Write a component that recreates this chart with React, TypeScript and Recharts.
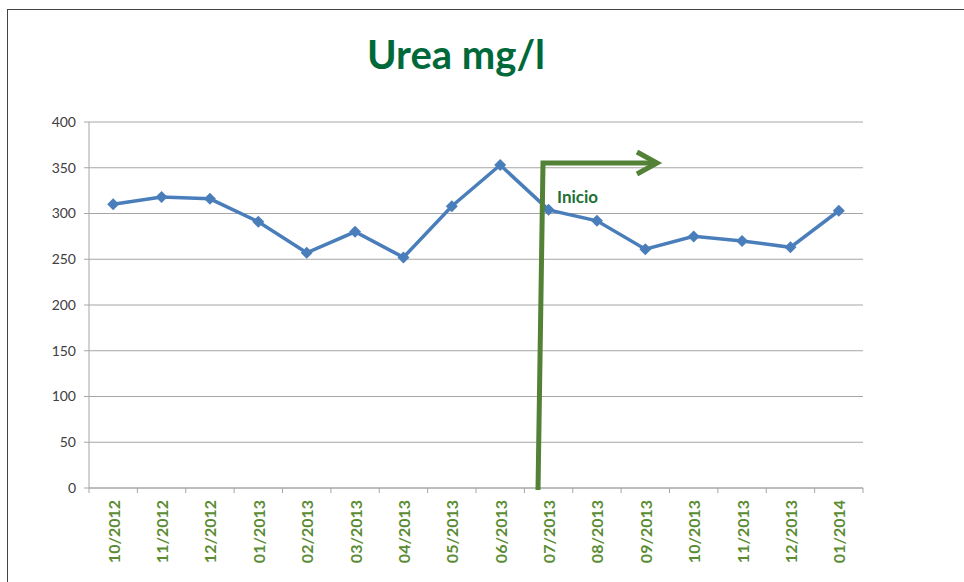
import { LineChart, Line, XAxis, YAxis, CartesianGrid } from 'recharts';

const months = [
  '10/2012', '11/2012', '12/2012', '01/2013', '02/2013', '03/2013', '04/2013', '05/2013',
  '06/2013', '07/2013', '08/2013', '09/2013', '10/2013', '11/2013', '12/2013', '01/2014',
];
const urea = [310, 318, 316, 291, 257, 280, 252, 308, 353, 304, 292, 261, 275, 270, 263, 303];
const yTicks = [0, 50, 100, 150, 200, 250, 300, 350, 400];

const data = months.map((m, i) => ({ month: m, urea: urea[i] }));

const FONT = 'Lato, "Open Sans", sans-serif';
const BLUE = '#4a7ebb';
const ARROW = '#538135';
const LABEL_GREEN = '#5b8c34';
const GRID = '#a6a6a6';

function Diamond(props: any) {
  const { cx, cy } = props;
  if (cx == null || cy == null) return null;
  const r = 6;
  return <polygon points={`${cx},${cy - r} ${cx + r},${cy} ${cx},${cy + r} ${cx - r},${cy}`} fill={BLUE} />;
}

// labels sit in the middle of each band, tick marks go on the band edges (Excel style)
function MonthTick(props: any) {
  const { x, y, payload, index } = props;
  const half = payload?.offset || 774 / 32;
  const last = index === months.length - 1;
  return (
    <g>
      <line x1={x - half} x2={x - half} y1={y} y2={y + 5} stroke={GRID} />
      {last && <line x1={x + half} x2={x + half} y1={y} y2={y + 5} stroke={GRID} />}
      <text
        x={x}
        y={y + 12}
        transform={`rotate(-90 ${x} ${y + 12})`}
        textAnchor="end"
        dominantBaseline="central"
        fill={LABEL_GREEN}
        fontFamily={FONT}
        fontWeight={700}
        fontSize={16}
      >
        {payload.value}
      </text>
    </g>
  );
}

export default function App() {
  return (
    <div style={{ position: 'absolute', left: 0, top: 0, width: 964, height: 582, background: '#fff', fontFamily: FONT }}>
      <div style={{ position: 'absolute', left: 7, top: 9, right: 0, bottom: 0, borderTop: '1.5px solid #444', borderLeft: '1.5px solid #444' }} />
      <div style={{ position: 'absolute', left: 0, width: 912, top: 30, textAlign: 'center', color: '#00693a', fontWeight: 700, fontSize: 40, fontFamily: FONT }}>
        Urea mg/l
      </div>
      <div style={{ position: 'absolute', left: 0, top: 0 }}>
        <LineChart width={964} height={582} data={data} margin={{ top: 122, right: 101, bottom: 0, left: 0 }}>
          <CartesianGrid vertical={false} stroke={GRID} />
          <YAxis
            domain={[0, 400]}
            ticks={yTicks}
            width={89}
            interval={0}
            axisLine={{ stroke: GRID }}
            tickLine={{ stroke: GRID }}
            tickSize={5}
            tickMargin={8}
            tick={{ fill: '#404040', fontSize: 14, fontFamily: FONT }}
          />
          <XAxis
            dataKey="month"
            scale="band"
            height={94}
            interval={0}
            axisLine={{ stroke: GRID }}
            tickLine={false}
            tickSize={0}
            tickMargin={0}
            tick={<MonthTick />}
          />
          <Line
            type="linear"
            dataKey="urea"
            stroke={BLUE}
            strokeWidth={3.5}
            dot={<Diamond />}
            activeDot={false}
            isAnimationActive={false}
          />
        </LineChart>
      </div>
      <svg width={964} height={582} style={{ position: 'absolute', left: 0, top: 0, pointerEvents: 'none' }}>
        <polyline
          points="538,490 543,163 652,163"
          fill="none"
          stroke={ARROW}
          strokeWidth={5}
          strokeLinejoin="miter"
        />
        <polyline points="637,152 657,163 637,174" fill="none" stroke={ARROW} strokeWidth={5} strokeLinejoin="miter" />
        <text x={557} y={203} fill="#1e7034" fontFamily={FONT} fontWeight={700} fontSize={17}>
          Inicio
        </text>
      </svg>
    </div>
  );
}
